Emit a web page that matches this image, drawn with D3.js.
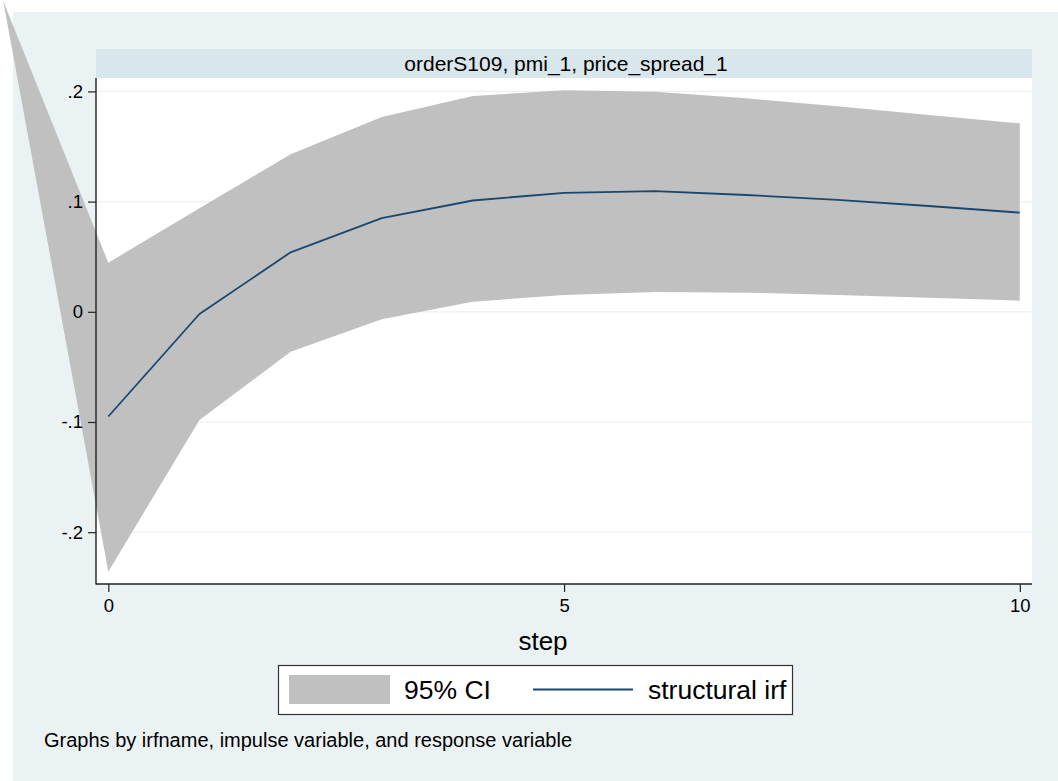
<!DOCTYPE html>
<html>
<head>
<meta charset="utf-8">
<script src="https://cdn.jsdelivr.net/npm/d3@7/dist/d3.min.js"></script>
<style>
  html, body { margin: 0; padding: 0; background: #ffffff; }
  svg { display: block; }
  text { font-family: "Liberation Sans", Arial, Helvetica, sans-serif; fill: #000; }
</style>
</head>
<body>
<svg id="chart" width="1058" height="781"></svg>
<script>
// ---- data ----
const steps = [0, 1, 2, 3, 4, 5, 6, 7, 8, 9, 10];
const irf   = [-0.095, -0.002, 0.054, 0.085, 0.101, 0.108, 0.1095, 0.106, 0.1015, 0.096, 0.090];
const ciUpper = [0.0446, 0.094, 0.143, 0.1768, 0.1958, 0.201, 0.1997, 0.1937, 0.1865, 0.1785, 0.171];
const ciLower = [-0.2358, -0.0982, -0.0362, -0.0068, 0.0092, 0.0152, 0.018, 0.0174, 0.0152, 0.0128, 0.0101];
// stray vertex of the CI polygon as it appears in the reference (outside the plot, top-left)
const ciStray = [{ step: -1.153, value: 0.282 }];
const yTicks = [-0.2, -0.1, 0, 0.1, 0.2];
const yTickLabels = ["-.2", "-.1", "0", ".1", ".2"];
const xTicks = [0, 5, 10];
const xTickLabels = ["0", "5", "10"];
const panelTitle = "orderS109, pmi_1, price_spread_1";
const xTitle = "step";
const legendLabels = ["95% CI", "structural irf"];
const noteText = "Graphs by irfname, impulse variable, and response variable";

// ---- layout ----
const W = 1058, H = 781;
const plot = { left: 96, right: 1032, top: 78, bottom: 584 };
const colors = { outer: "#EAF2F3", strip: "#D9E6EB", ci: "#C0C0C0", line: "#1A476F", grid: "#EAF2F3", axis: "#222222" };

const svg = d3.select("#chart");

const x = d3.scaleLinear().domain([0, 10]).range([108.3, 1019.8]);
const y = d3.scaleLinear().domain([0, 0.1]).range([311.8, 201.6]);

// outer background
svg.append("rect").attr("x", 13).attr("y", 12).attr("width", W - 13).attr("height", H - 12).attr("fill", colors.outer);

// header strip
svg.append("rect").attr("x", plot.left).attr("y", 49).attr("width", plot.right - plot.left).attr("height", plot.top - 49).attr("fill", colors.strip);
svg.append("text").attr("x", (plot.left + plot.right) / 2 + 2).attr("y", 70.5)
  .attr("text-anchor", "middle").style("font-size", "21px").text(panelTitle);

// plot region
svg.append("rect").attr("x", plot.left).attr("y", plot.top).attr("width", plot.right - plot.left).attr("height", plot.bottom - plot.top).attr("fill", "#ffffff");

// gridlines
svg.append("g").selectAll("line").data(yTicks).join("line")
  .attr("x1", plot.left).attr("x2", plot.right)
  .attr("y1", d => y(d)).attr("y2", d => y(d))
  .attr("stroke", colors.grid).attr("stroke-width", 1.2);

// CI polygon
const ptsUpper = steps.map((s, i) => [x(s), y(ciUpper[i])]);
const ptsLower = steps.map((s, i) => [x(s), y(ciLower[i])]).reverse();
const ptsStray = ciStray.map(d => [x(d.step), y(d.value)]);
const poly = ptsUpper.concat(ptsLower, ptsStray);
svg.append("path").attr("d", d3.line()(poly) + "Z").attr("fill", colors.ci).attr("stroke", "none");

// irf line
svg.append("path")
  .attr("d", d3.line().x((s) => x(s)).y((s, i) => y(irf[i]))(steps))
  .attr("fill", "none").attr("stroke", colors.line).attr("stroke-width", 1.8).attr("stroke-linejoin", "round");

// axes
const yAxis = d3.axisLeft(y).tickValues(yTicks).tickFormat((d, i) => yTickLabels[i]).tickSize(8).tickPadding(5);
const gy = svg.append("g").attr("transform", `translate(${plot.left},0)`).call(yAxis);
gy.select(".domain").remove();
gy.selectAll(".tick line").attr("stroke", colors.axis).attr("stroke-width", 1.2);
gy.selectAll(".tick text").style("font-size", "18.5px").attr("fill", "#000").attr("font-family", null);

const xAxis = d3.axisBottom(x).tickValues(xTicks).tickFormat((d, i) => xTickLabels[i]).tickSize(8).tickPadding(7);
const gx = svg.append("g").attr("transform", `translate(0,${plot.bottom})`).call(xAxis);
gx.select(".domain").remove();
gx.selectAll(".tick line").attr("stroke", colors.axis).attr("stroke-width", 1.2);
gx.selectAll(".tick text").style("font-size", "18.5px").attr("fill", "#000").attr("font-family", null);

svg.append("line").attr("x1", plot.left).attr("x2", plot.left).attr("y1", plot.top).attr("y2", plot.bottom + 0.6)
  .attr("stroke", colors.axis).attr("stroke-width", 1.4);
svg.append("line").attr("x1", plot.left).attr("x2", plot.right).attr("y1", plot.bottom).attr("y2", plot.bottom)
  .attr("stroke", colors.axis).attr("stroke-width", 1.4);

// x title
svg.append("text").attr("x", 543).attr("y", 650)
  .attr("text-anchor", "middle").style("font-size", "26px").text(xTitle);

// legend
const leg = svg.append("g");
leg.append("rect").attr("x", 278.5).attr("y", 665.5).attr("width", 514).attr("height", 49)
  .attr("fill", "#ffffff").attr("stroke", "#333").attr("stroke-width", 1.2);
leg.append("rect").attr("x", 289).attr("y", 675).attr("width", 101).attr("height", 29).attr("fill", colors.ci);
leg.append("text").attr("x", 404).attr("y", 699).style("font-size", "26.5px").text(legendLabels[0]);
leg.append("line").attr("x1", 533).attr("x2", 633).attr("y1", 689.5).attr("y2", 689.5).attr("stroke", colors.line).attr("stroke-width", 1.8);
leg.append("text").attr("x", 648).attr("y", 699).style("font-size", "26.5px").text(legendLabels[1]);

// note
svg.append("text").attr("x", 44).attr("y", 747).style("font-size", "20px").text(noteText);
</script>
</body>
</html>
